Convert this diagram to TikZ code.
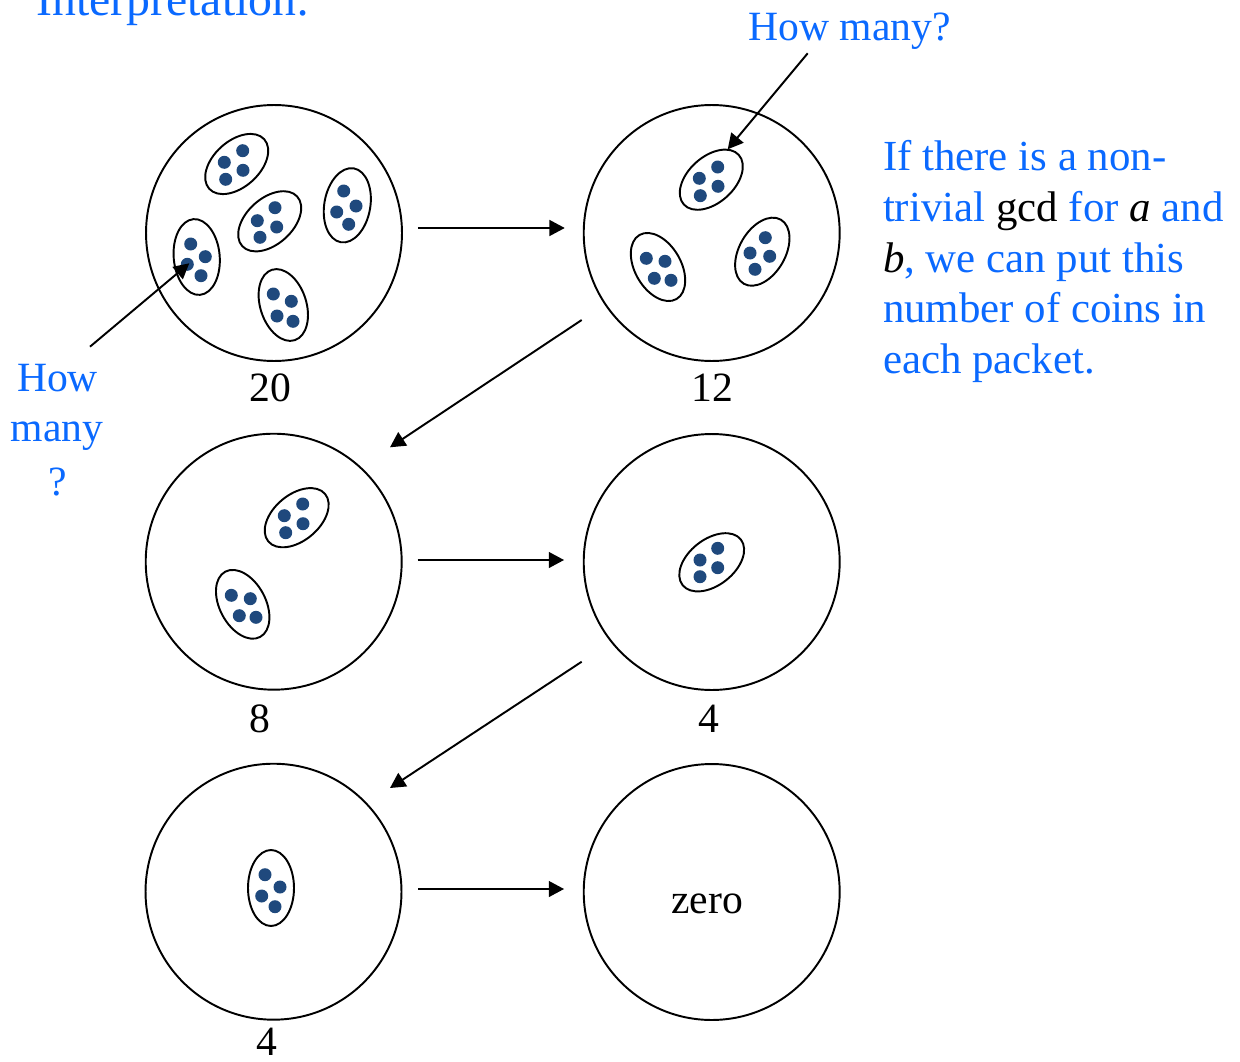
\documentclass[tikz,border=0pt]{standalone}
\usepackage{fontspec}
\setmainfont{Liberation Serif}
\usetikzlibrary{arrows.meta,calc}
\definecolor{txtblue}{RGB}{10,105,255}
\definecolor{coin}{RGB}{31,73,125}
\newcommand{\coinbag}[4]{%
  \draw[bag, rotate around={#3:(#1,#2)}] (#1,#2) ellipse [x radius=#4, y radius=23];}
\newcommand{\coins}[4]{%
  \foreach \p in {#1,#2,#3,#4} \fill[coin] \p circle[radius=6.5];}
\begin{document}
\begin{tikzpicture}[x=0.02cm,y=-0.02cm,
  heap/.style={circle,draw,line width=1.1pt,minimum size=5.12cm,inner sep=0pt},
  arr/.style={line width=1.1pt,-{Triangle[length=8.7pt,width=9pt]}},
  bag/.style={line width=1.1pt},
  lbl/.style={font=\fontsize{23.7pt}{29pt}\selectfont,inner sep=0pt},
  bluetxt/.style={lbl,text=txtblue},
  paratxt/.style={bluetxt,font=\fontsize{24.4pt}{29pt}\selectfont,anchor=base west}]
\clip (0,0) rectangle (1240,1061);
\useasboundingbox (0,0) rectangle (1240,1061);

% heaps
\node[heap] (c1) at (274,233) {};
\node[heap] (c2) at (711.7,233) {};
\node[heap] (c3) at (273.7,561.7) {};
\node[heap] (c4) at (711.7,562) {};
\node[heap] (c5) at (273.5,891.7) {};
\node[heap] (c6) at (711.7,892) {};

% packets in c1
\coinbag{236.7}{164}{42}{37}
\coins{(242.7,150.7)}{(224.3,162.3)}{(243,170.3)}{(225.7,179.3)}
\coinbag{269.7}{221.3}{42}{37}
\coins{(275,207.7)}{(257.3,220.7)}{(276.7,227)}{(260,237.3)}
\coinbag{347.3}{205.3}{80}{37.5}
\coins{(343.7,191)}{(356,206)}{(336.7,212)}{(348.7,224.3)}
\coinbag{196.7}{257}{95}{38}
\coins{(190.7,244)}{(205.3,256.7)}{(187.3,264.3)}{(201,275.7)}
\coinbag{283.3}{305}{108}{37}
\coins{(273.3,294)}{(291.3,301.3)}{(277,316)}{(293,321.3)}

% packets in c2
\coinbag{711.3}{179.7}{42}{37}
\coins{(717.7,167)}{(699.3,178.3)}{(718,186.3)}{(700.3,195.7)}
\coinbag{658}{267}{120}{37}
\coins{(646.3,258.3)}{(665,261.3)}{(654.3,278.3)}{(671,280.3)}
\coinbag{762.3}{251.7}{60}{37}
\coins{(765.3,237.7)}{(750,253)}{(769.7,256.3)}{(755,269.3)}

% packets in c3
\coinbag{296.7}{517.7}{40}{37}
\coins{(302.7,504)}{(284.3,515.7)}{(303,523.7)}{(285.7,532.7)}
\coinbag{242.7}{604.3}{118}{37}
\coins{(231.3,595.3)}{(250.3,598.7)}{(239.3,615.7)}{(256,617.3)}

% packet in c4
\coinbag{711.7}{562.3}{38}{37}
\coins{(717.7,548.3)}{(700,560)}{(717.7,567.7)}{(700,576.7)}

% packet in c5
\coinbag{271}{888}{90}{38}
\coins{(265,874.7)}{(280,887)}{(261.7,896)}{(275,906.7)}

% numbers
\node[lbl,anchor=base] (n1) at (270,401) {20};
\node[lbl,anchor=base] (n2) at (712,401) {12};
\node[lbl,anchor=base] (n3) at (260,732) {8};
\node[lbl,anchor=base] (n4) at (709,732) {4};
\node[lbl,anchor=base] (n5) at (267,1055) {4};
\node[lbl,anchor=base] (zero) at (707,913) {zero};

% flow arrows
\draw[arr] ($(c1.east)+(15,-5)$) -- ($(c2.west)+(-18,-5)$);
\draw[arr] ($(c3.east)+(15,-1.7)$) -- ($(c4.west)+(-18.7,-2)$);
\draw[arr] ($(c5.east)+(15.8,-2.7)$) -- ($(c6.west)+(-18.7,-3)$);
\draw[arr] ($(c2)+(-130,87)$) -- ($(c3)+(116.3,-114.4)$);
\draw[arr] ($(c4)+(-130,99.7)$) -- ($(c5)+(116.5,-103.7)$);

% titles and notes
\node[bluetxt,font=\fontsize{27.2pt}{32pt}\selectfont,anchor=base west] (title) at (36,16) {Interpretation:};
\node[bluetxt,anchor=base west] (hm1) at (748,41) {How many?};
\draw[arr] ($(hm1.base west)+(59.7,12.3)$) -- ($(c2)+(16,-83.7)$);

\node[bluetxt,anchor=base] (hmA) at (57.5,391.7) {How};
\node[bluetxt,anchor=base] (hmB) at (57,441.7) {many};
\node[bluetxt,anchor=base] (hmC) at (58,495) {?};
\coordinate (hmstart) at (90,346.7);
\draw[arr] (hmstart) -- ($(c1)+(-84.7,30.3)$);

\node[paratxt] (p1) at (882.7,170) {If there is a non-};
\node[paratxt] (p2) at (882.7,221) {trivial \textcolor{black}{gcd} for \textcolor{black}{\textit{a}} and};
\node[paratxt] (p3) at (882.7,272) {\textcolor{black}{\textit{b}}, we can put this};
\node[paratxt] (p4) at (882.7,322.5) {number of coins in};
\node[paratxt] (p5) at (882.7,373) {each packet.};
\end{tikzpicture}
\end{document}
